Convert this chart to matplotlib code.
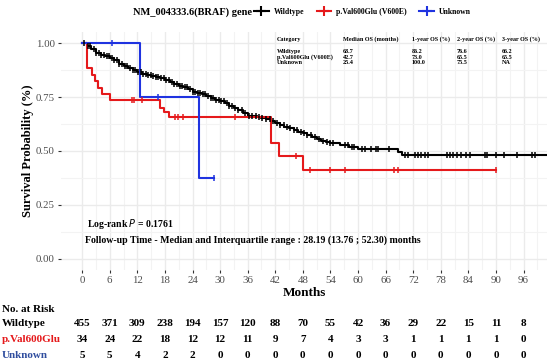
import numpy as np
import matplotlib
matplotlib.use("Agg")
import matplotlib.pyplot as plt
from matplotlib.lines import Line2D
from matplotlib.transforms import blended_transform_factory

plt.rcParams['font.family'] = ['Liberation Serif', 'DejaVu Serif']

# Kaplan-Meier step curves
wt_time = [0, 1, 2, 3, 4, 5, 6, 7, 8, 9, 10, 11, 12, 13, 14, 15, 16, 17, 18, 19,
           20, 21, 22, 23, 24, 25, 26, 27, 28, 29, 30, 31, 32, 33, 34, 35, 36, 37,
           38, 39, 40, 41, 42, 43, 44, 45, 46, 47, 48, 49, 50, 51, 52, 53, 54, 56,
           58, 60, 63, 68.7, 69.5, 101]
wt_surv = [1.0, 0.985, 0.97, 0.955, 0.945, 0.94, 0.93, 0.92, 0.905, 0.895, 0.885,
           0.875, 0.865, 0.858, 0.852, 0.848, 0.842, 0.836, 0.828, 0.82, 0.81, 0.802,
           0.795, 0.788, 0.775, 0.768, 0.762, 0.755, 0.745, 0.738, 0.73, 0.72, 0.71,
           0.70, 0.69, 0.675, 0.664, 0.66, 0.657, 0.653, 0.648, 0.64, 0.628, 0.62,
           0.612, 0.605, 0.598, 0.59, 0.582, 0.575, 0.565, 0.555, 0.548, 0.54, 0.535,
           0.528, 0.518, 0.51, 0.508, 0.495, 0.48, 0.48]
wt_cens = [0.5, 1.2, 1.8, 2.5, 3.1, 3.6, 4.2, 4.8, 5.3, 5.9, 6.4, 7.0, 7.6, 8.1, 8.7,
           9.3, 9.8, 10.4, 11.0, 11.5, 12.1, 12.7, 13.2, 13.8, 14.4, 14.9, 15.5, 16.1,
           16.6, 17.2, 17.8, 18.3, 18.9, 19.5, 20.0, 20.6, 21.2, 21.7, 22.3, 22.9,
           23.4, 24.0, 24.6, 25.1, 25.7, 26.3, 26.8, 27.4, 28.0, 28.5, 29.1, 29.7,
           30.2, 30.8, 31.4, 32.0, 32.6, 33.3, 34.0, 34.8, 35.5, 36.3, 37.0, 37.8,
           38.5, 39.2, 40.0, 40.8, 41.5, 42.3, 43.0, 43.8, 44.5, 45.3, 46.0, 46.8,
           47.5, 48.3, 49.0, 49.8, 50.6, 51.5, 52.4, 53.2, 54.0, 54.6, 57.2, 57.9,
           58.6, 59.1, 60.8, 61.5, 62.8, 63.9, 64.4, 66.8, 70.2, 70.9, 72.4, 73.1,
           73.8, 74.6, 75.3, 79.3, 80.0, 80.7, 81.6, 82.5, 83.5, 84.3, 87.6, 88.1,
           90.1, 91.7, 94.5, 97.8, 98.5]

mut_time = [0, 1.0, 2.1, 2.8, 3.5, 4.3, 6.1, 17.0, 17.7, 18.8, 41.0, 42.9, 48.1, 90.1]
mut_surv = [1.0, 0.882, 0.853, 0.824, 0.794, 0.765, 0.735, 0.70, 0.68, 0.657, 0.538,
            0.477, 0.412, 0.412]
mut_cens = [10.8, 11.2, 13.0, 20.2, 20.9, 22.0, 33.3, 46.5, 49.6, 54.0, 57.2, 67.9,
            68.6, 90.1]

unk_time = [0, 12.6, 25.5, 28.7]
unk_surv = [1.0, 0.75, 0.375, 0.375]
unk_cens = [6.6, 16.5, 28.7]

# Numbers at risk
risk_times = list(range(0, 97, 6))
risk_wt = [455, 371, 309, 238, 194, 157, 120, 88, 70, 55, 42, 36, 29, 22, 15, 11, 8]
risk_mut = [34, 24, 22, 18, 12, 12, 11, 9, 7, 4, 3, 3, 1, 1, 1, 1, 0]
risk_unk = [5, 5, 4, 2, 2, 0, 0, 0, 0, 0, 0, 0, 0, 0, 0, 0, 0]

# Summary table
tab_header = ['Category', 'Median OS (months)', '1-year OS (%)', '2-year OS (%)', '3-year OS (%)']
tab_rows = [['Wildtype', '68.7', '86.2', '76.6', '66.2'],
            ['p.Val600Glu (V600E)', '42.7', '73.0', '65.5', '65.5'],
            ['Unknown', '25.4', '100.0', '75.5', 'NA']]

c_wt, c_mut, c_unk = 'black', '#E5191B', '#1F33E0'
c_unk_txt = '#2F4D9E'

W, H = 550, 360
fig = plt.figure(figsize=(5.5, 3.6), dpi=100)
ax = fig.add_axes([61 / W, 1 - 270 / H, 486 / W, 238 / H])


def step_at(times, surv, t):
    i = np.searchsorted(times, t, side='right') - 1
    return surv[i]


for tt, ss, cc, col in [(wt_time, wt_surv, wt_cens, c_wt),
                        (mut_time, mut_surv, mut_cens, c_mut),
                        (unk_time, unk_surv, unk_cens, c_unk)]:
    ax.step(tt, ss, where='post', color=col, lw=1.5, zorder=3)
    ax.plot(cc, [step_at(tt, ss, t) for t in cc], ls='none', marker='|',
            ms=5, mew=1.1, color=col, zorder=4)

ax.set_xlim(-4.6, 101.1)
ax.set_ylim(-0.051, 1.051)
ax.set_xticks(risk_times)
ax.set_xticks(np.arange(3, 100, 6), minor=True)
ax.set_yticks([0, 0.25, 0.5, 0.75, 1.0])
ax.set_yticks([0.125, 0.375, 0.625, 0.875], minor=True)
ax.set_yticklabels(['0.00', '0.25', '0.50', '0.75', '1.00'])
ax.grid(True, which='major', color='#EBEBEB', lw=1.0)
ax.grid(True, which='minor', color='#F3F3F3', lw=0.8)
ax.set_axisbelow(True)
for sp in ax.spines.values():
    sp.set_visible(False)
ax.tick_params(which='major', length=2.5, width=0.8, color='#333333',
               labelsize=7.8, labelcolor='#4D4D4D', pad=2)
ax.tick_params(which='minor', length=0)
ax.set_xlabel('Months', fontsize=9.5, fontweight='bold', labelpad=1)
ax.set_ylabel('Survival Probability (%)', fontsize=9, fontweight='bold', labelpad=1)

# annotations inside the panel
ax.text(87 / W, 1 - 224 / H, 'Log-rank $\\it{P}$ = 0.1761', transform=fig.transFigure,
        fontsize=7, fontweight='bold', va='center', ha='left')
ax.text(85 / W, 1 - 240 / H,
        'Follow-up Time - Median and Interquartile range : 28.19 (13.76 ; 52.30) months',
        transform=fig.transFigure, fontsize=7.1, fontweight='bold', va='center', ha='left')

# summary table
col_x = [277, 343, 412, 457, 502]
for x, h in zip(col_x, tab_header):
    fig.text(x / W, 1 - 39 / H, h, fontsize=4.4, fontweight='bold', va='center')
for r, row in enumerate(tab_rows):
    for x, v in zip(col_x, row):
        fig.text(x / W, 1 - (51.5 + 5.6 * r) / H, v, fontsize=4.4, fontweight='bold',
                 va='center')

# title and legend
fig.text(133 / W, 1 - 12 / H, 'NM_004333.6(BRAF) gene', fontsize=7.5, fontweight='bold',
         va='center', ha='left')
handles = [Line2D([], [], color=c, lw=1.5, marker='+', ms=7, mew=1.5) for c in (c_wt, c_mut, c_unk)]
fig.legend(handles, ['Wildtype', 'p.Val600Glu (V600E)', 'Unknown'], loc='center left',
           bbox_to_anchor=(254 / W, 1 - 12 / H), ncol=3, frameon=False,
           prop={'size': 5.6, 'weight': 'bold'}, handlelength=1.9, handletextpad=0.6,
           columnspacing=1.6, borderpad=0, borderaxespad=0)

# risk table
tr = blended_transform_factory(ax.transData, fig.transFigure)
fig.text(2 / W, 1 - 309 / H, 'No. at Risk', fontsize=8, fontweight='bold', va='center')
for y, lab, col, vals in [(324, 'Wildtype', 'black', risk_wt),
                          (340, 'p.Val600Glu', c_mut, risk_mut),
                          (355, 'Unknown', c_unk_txt, risk_unk)]:
    fig.text(2 / W, 1 - y / H, lab, fontsize=8, fontweight='bold', color=col, va='center')
    for t, v in zip(risk_times, vals):
        ax.text(t, 1 - y / H, str(v), transform=tr, fontsize=8, fontweight='bold',
                ha='center', va='center', clip_on=False)

fig.savefig('out.png', dpi=100)
